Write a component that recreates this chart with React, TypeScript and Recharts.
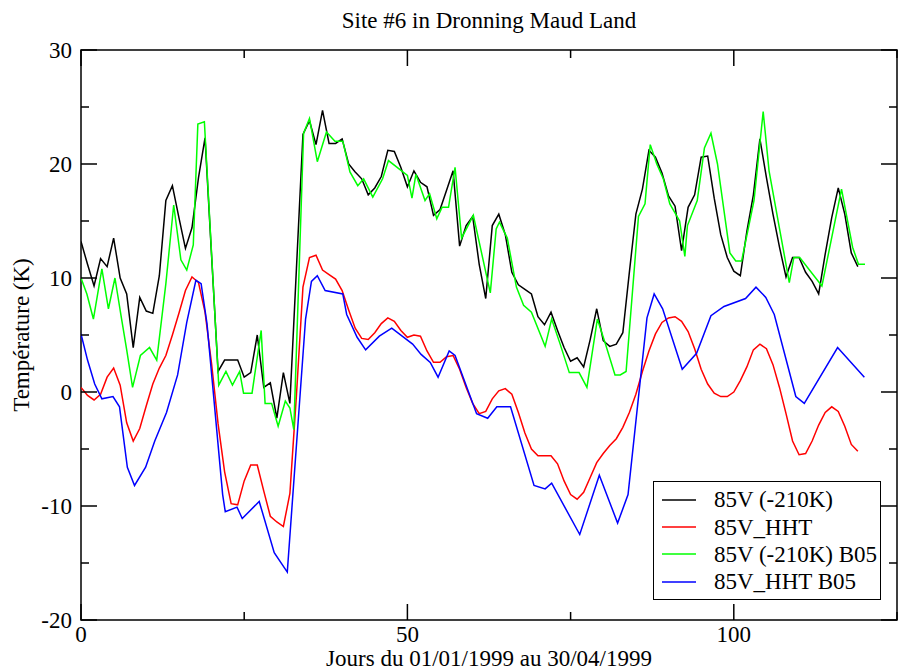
import React from 'react'
import { LineChart, Line, XAxis, YAxis, Legend, ReferenceArea } from 'recharts'

const FONT = '"Liberation Serif", "Times New Roman", Times, serif'

// daily values, day 0 = 01/01/1999
const black85V = [
  13.2, 11.2, 9.3, 11.7, 11.0, 13.5, 10.0, 8.6, 3.9, 8.3,
  7.1, 6.9, 10.2, 16.8, 18.1, 15.3, 12.6, 14.4, 18.8, 22.3,
  12.0, 1.8, 2.8, 2.8, 2.8, 1.3, 1.7, 5.0, 0.4, 0.8,
  -2.3, 1.7, -1.0, 10.8, 22.6, 23.8, 21.7, 24.7, 21.8, 21.8,
  22.2, 20.0, 19.3, 18.7, 17.3, 17.9, 18.9, 21.2, 21.1, 19.7,
  18.0, 19.4, 18.4, 18.0, 15.5, 16.0, 17.7, 19.4, 12.8, 14.6,
  15.4, 11.2, 8.2, 14.6, 15.6, 13.8, 10.5, 9.4, 9.0, 8.6,
  6.6, 5.9, 7.0, 5.4, 3.9, 2.7, 3.0, 2.2, 4.6, 7.3,
  4.5, 4.0, 4.2, 5.2, 10.5, 15.6, 17.8, 21.2, 20.6, 19.2,
  17.2, 16.3, 12.4, 16.2, 17.3, 20.6, 20.7, 17.0, 13.8, 11.8,
  10.6, 10.2, 14.1, 17.3, 22.2, 18.8, 15.6, 12.7, 10.1, 11.8,
  11.8, 10.5, 9.7, 8.6, 12.1, 15.3, 17.9, 15.6, 12.2, 11.0,
]

const red85VHHT = [
  0.4, -0.3, -0.7, -0.2, 1.3, 2.1, 0.6, -2.7, -4.3, -3.2,
  -1.2, 0.7, 2.1, 3.2, 5.0, 6.9, 8.9, 10.1, 9.6, 7.0,
  2.5, -2.8, -7.0, -9.8, -9.9, -7.8, -6.4, -6.4, -8.7, -10.9,
  -11.4, -11.8, -8.9, -0.3, 9.2, 11.8, 12.0, 10.7, 10.3, 9.9,
  8.9, 7.2, 5.6, 4.7, 4.6, 5.2, 6.0, 6.5, 6.2, 5.4,
  4.8, 5.0, 4.9, 3.6, 2.6, 2.6, 3.1, 3.2, 2.0, 0.4,
  -1.0, -1.9, -1.7, -0.6, 0.1, 0.3, -0.2, -1.8, -3.6, -5.0,
  -5.6, -5.6, -5.6, -6.3, -7.8, -9.0, -9.4, -8.8, -7.5, -6.2,
  -5.4, -4.7, -4.1, -3.1, -1.8, -0.2, 1.8, 3.6, 5.1, 6.1,
  6.5, 6.6, 6.2, 5.3, 3.8, 2.0, 0.7, -0.1, -0.4, -0.4,
  0.0, 1.0, 2.2, 3.7, 4.2, 3.8, 2.4, 0.4, -1.9, -4.3,
  -5.5, -5.4, -4.3, -2.9, -1.8, -1.3, -1.7, -3.0, -4.6, -5.2,
]

// B05 series are sampled at their own times
const greenDays = [
  0, 0.9, 1.9, 3.2, 4.2, 5.2, 6.1, 7.0, 7.9, 9.1,
  10.5, 11.6, 13.0, 14.2, 15.3, 16.2, 17.2, 17.9, 18.9, 21.1,
  22.2, 23.2, 24.3, 24.9, 26.2, 27.6, 28.2, 29.2, 30.2, 31.3,
  32.0, 32.6, 34.1, 35.0, 36.2, 37.6, 38.9, 40.1, 41.2, 42.4,
  43.3, 44.7, 46.2, 47.1, 50.0, 50.7, 51.3, 52.7, 53.4, 54.5,
  55.3, 56.3, 57.3, 58.3, 60.1, 62.7, 63.6, 64.1, 65.3, 66.7,
  67.8, 69.0, 71.1, 72.1, 73.4, 74.8, 76.3, 77.5, 79.1, 80.4,
  81.8, 82.6, 83.5, 85.4, 86.4, 87.2, 88.2, 89.2, 90.2, 91.7,
  92.5, 92.9, 94.4, 95.5, 96.5, 97.5, 99.4, 100.3, 101.2, 103.1,
  104.5, 105.4, 108.5, 109.2, 110.1, 113.5, 116.5, 118.2, 119.1, 120.1,
]
const green85VB05 = [
  10.0, 8.6, 6.4, 10.8, 7.3, 10.0, 6.8, 3.7, 0.4, 3.2,
  3.9, 2.8, 9.5, 16.4, 11.6, 10.7, 12.9, 23.5, 23.7, 0.6,
  1.8, 0.6, 1.8, -0.1, -0.1, 5.4, -1.0, -1.0, -3.0, -0.8,
  -1.4, -3.3, 22.7, 24.0, 20.2, 22.8, 22.0, 22.0, 19.3, 18.1,
  18.7, 17.1, 18.7, 20.3, 19.0, 17.0, 19.1, 16.8, 17.4, 15.2,
  16.2, 16.2, 19.7, 13.5, 15.5, 8.7, 14.3, 14.9, 13.5, 9.2,
  7.6, 7.0, 4.0, 6.4, 4.2, 1.7, 1.7, 0.4, 6.4, 4.1,
  1.5, 1.5, 1.8, 15.4, 16.5, 21.7, 20.0, 18.7, 16.5, 15.0,
  11.9, 14.6, 16.8, 21.4, 22.7, 20.0, 12.2, 11.5, 11.5, 16.8,
  24.6, 19.4, 9.6, 11.8, 11.8, 9.3, 17.8, 12.7, 11.2, 11.2,
]

const blueDays = [
  0, 1.0, 2.1, 3.2, 4.9, 5.9, 7.1, 8.2, 9.9, 11.3,
  13.1, 14.8, 16.2, 17.6, 18.4, 19.3, 21.7, 22.1, 23.9, 24.7,
  27.3, 29.6, 31.6, 34.4, 35.3, 36.2, 37.4, 40.1, 40.7, 42.3,
  43.6, 45.7, 47.6, 50.8, 52.1, 53.5, 54.7, 56.4, 57.3, 60.6,
  62.3, 63.7, 65.8, 69.4, 71.1, 72.1, 76.4, 79.4, 82.2, 83.8,
  86.7, 87.8, 89.1, 92.1, 94.3, 96.5, 98.5, 101.8, 103.4, 104.9,
  106.2, 109.5, 110.8, 115.9, 120.0,
]
const blue85VHHTB05 = [
  5.1, 2.8, 0.7, -0.6, -0.4, -1.3, -6.6, -8.2, -6.6, -4.3,
  -1.8, 1.5, 6.1, 9.8, 9.5, 6.0, -9.0, -10.5, -10.1, -11.1,
  -9.6, -14.1, -15.8, 6.4, 9.7, 10.2, 8.9, 8.6, 6.8, 4.8,
  3.7, 4.9, 5.6, 4.2, 3.3, 2.6, 1.3, 3.6, 3.2, -1.9,
  -2.3, -1.3, -1.3, -8.2, -8.5, -8.0, -12.5, -7.3, -11.5, -9.0,
  6.5, 8.6, 7.3, 2.0, 3.4, 6.7, 7.5, 8.2, 9.2, 8.3,
  6.8, -0.4, -1.0, 3.9, 1.3,
]

const seriesNames = ['85V (-210K)', '85V_HHT', '85V (-210K) B05', '85V_HHT B05']
const xTicks = [0, 25, 50, 75, 100, 125]
const yTicks = [-20, -15, -10, -5, 0, 5, 10, 15, 20, 25, 30]

const W = 898
const H = 672
const MARGIN = { top: 50, right: 1, left: 0, bottom: 0 }
const PLOT_TOP = MARGIN.top
const PLOT_RIGHT = W - MARGIN.right

const blackData = black85V.map((v, i) => ({ x: i, y: v }))
const redData = red85VHHT.map((v, i) => ({ x: i, y: v }))
const greenData = greenDays.map((d, i) => ({ x: d, y: green85VB05[i] }))
const blueData = blueDays.map((d, i) => ({ x: d, y: blue85VHHTB05[i] }))

// ticks point inward and are mirrored on the opposite side of the frame
function XTick({ x, y, payload }: any) {
  const major = payload.value % 50 === 0
  const len = major ? 16 : 8
  return (
    <g>
      <line x1={x} x2={x} y1={y} y2={y - len} stroke="#000" strokeWidth={1.5} />
      <line x1={x} x2={x} y1={PLOT_TOP} y2={PLOT_TOP + len} stroke="#000" strokeWidth={1.5} />
      {major && (
        <text x={x} y={y + 22} textAnchor="middle" fontFamily={FONT} fontSize={23} fill="#000">
          {payload.value}
        </text>
      )}
    </g>
  )
}

function YTick({ x, y, payload }: any) {
  const major = payload.value % 10 === 0
  const len = major ? 16 : 8
  return (
    <g>
      <line x1={x} x2={x + len} y1={y} y2={y} stroke="#000" strokeWidth={1.5} />
      <line x1={PLOT_RIGHT} x2={PLOT_RIGHT - len} y1={y} y2={y} stroke="#000" strokeWidth={1.5} />
      {major && (
        <text x={x - 9} y={y} dy="0.35em" textAnchor="end" fontFamily={FONT} fontSize={23} fill="#000">
          {payload.value}
        </text>
      )}
    </g>
  )
}

function LegendBox({ payload }: any) {
  const items = [...(payload || [])].sort(
    (a: any, b: any) => seriesNames.indexOf(a.value) - seriesNames.indexOf(b.value)
  )
  return (
    <div
      style={{
        border: '1.5px solid #000',
        background: '#fff',
        width: 228,
        height: 119,
        boxSizing: 'border-box',
        padding: '4px 0 0 8px',
        fontFamily: FONT,
        fontSize: 23,
        color: '#000',
      }}
    >
      {items.map((p: any) => (
        <div key={p.value} style={{ display: 'flex', alignItems: 'center', height: 27.4 }}>
          <svg width={34} height={4} style={{ flex: 'none' }}>
            <line x1={0} x2={34} y1={2} y2={2} stroke={p.color} strokeWidth={1.5} />
          </svg>
          <span style={{ marginLeft: 18, whiteSpace: 'nowrap', lineHeight: 1 }}>{p.value}</span>
        </div>
      ))}
    </div>
  )
}

export default function App() {
  return (
    <div style={{ position: 'absolute', left: 0, top: 0, width: W, height: H, background: '#fff' }}>
      <div
        style={{
          position: 'absolute', left: 81, width: 816, top: 8, textAlign: 'center',
          fontFamily: FONT, fontSize: 23, color: '#000', lineHeight: 1.1,
        }}
      >
        Site #6 in Dronning Maud Land
      </div>
      <LineChart width={W} height={H} margin={MARGIN}>
        <XAxis
          type="number"
          dataKey="x"
          domain={[0, 125]}
          ticks={xTicks}
          interval={0}
          allowDataOverflow
          height={52}
          tickSize={0}
          tickMargin={0}
          tickLine={false}
          axisLine={false}
          tick={<XTick />}
          label={{
            value: 'Jours du 01/01/1999 au 30/04/1999', position: 'insideBottom', offset: 6,
            fill: '#000', style: { fontFamily: FONT, fontSize: 23, fill: '#000' },
          }}
        />
        <YAxis
          type="number"
          dataKey="y"
          domain={[-20, 30]}
          ticks={yTicks}
          interval={0}
          allowDataOverflow
          width={81}
          tickSize={0}
          tickMargin={0}
          tickLine={false}
          axisLine={false}
          tick={<YTick />}
          label={{
            value: 'Température (K)', angle: -90, position: 'center', dx: -20,
            fill: '#000', style: { fontFamily: FONT, fontSize: 23, fill: '#000' },
          }}
        />
        <ReferenceArea x1={0} x2={125} y1={-20} y2={30} fill="none" stroke="#000" strokeWidth={1.5} ifOverflow="visible" />
        <Line data={blackData} dataKey="y" name={seriesNames[0]} stroke="#000000" strokeWidth={1.5} dot={false} isAnimationActive={false} />
        <Line data={redData} dataKey="y" name={seriesNames[1]} stroke="#ff0000" strokeWidth={1.5} dot={false} isAnimationActive={false} />
        <Line data={greenData} dataKey="y" name={seriesNames[2]} stroke="#00ff00" strokeWidth={1.5} dot={false} isAnimationActive={false} />
        <Line data={blueData} dataKey="y" name={seriesNames[3]} stroke="#0000ff" strokeWidth={1.5} dot={false} isAnimationActive={false} />
        <Legend
          layout="vertical"
          align="center"
          verticalAlign="middle"
          content={<LegendBox />}
          wrapperStyle={{ left: 653, top: 481, width: 'auto', height: 'auto' }}
        />
      </LineChart>
    </div>
  )
}
